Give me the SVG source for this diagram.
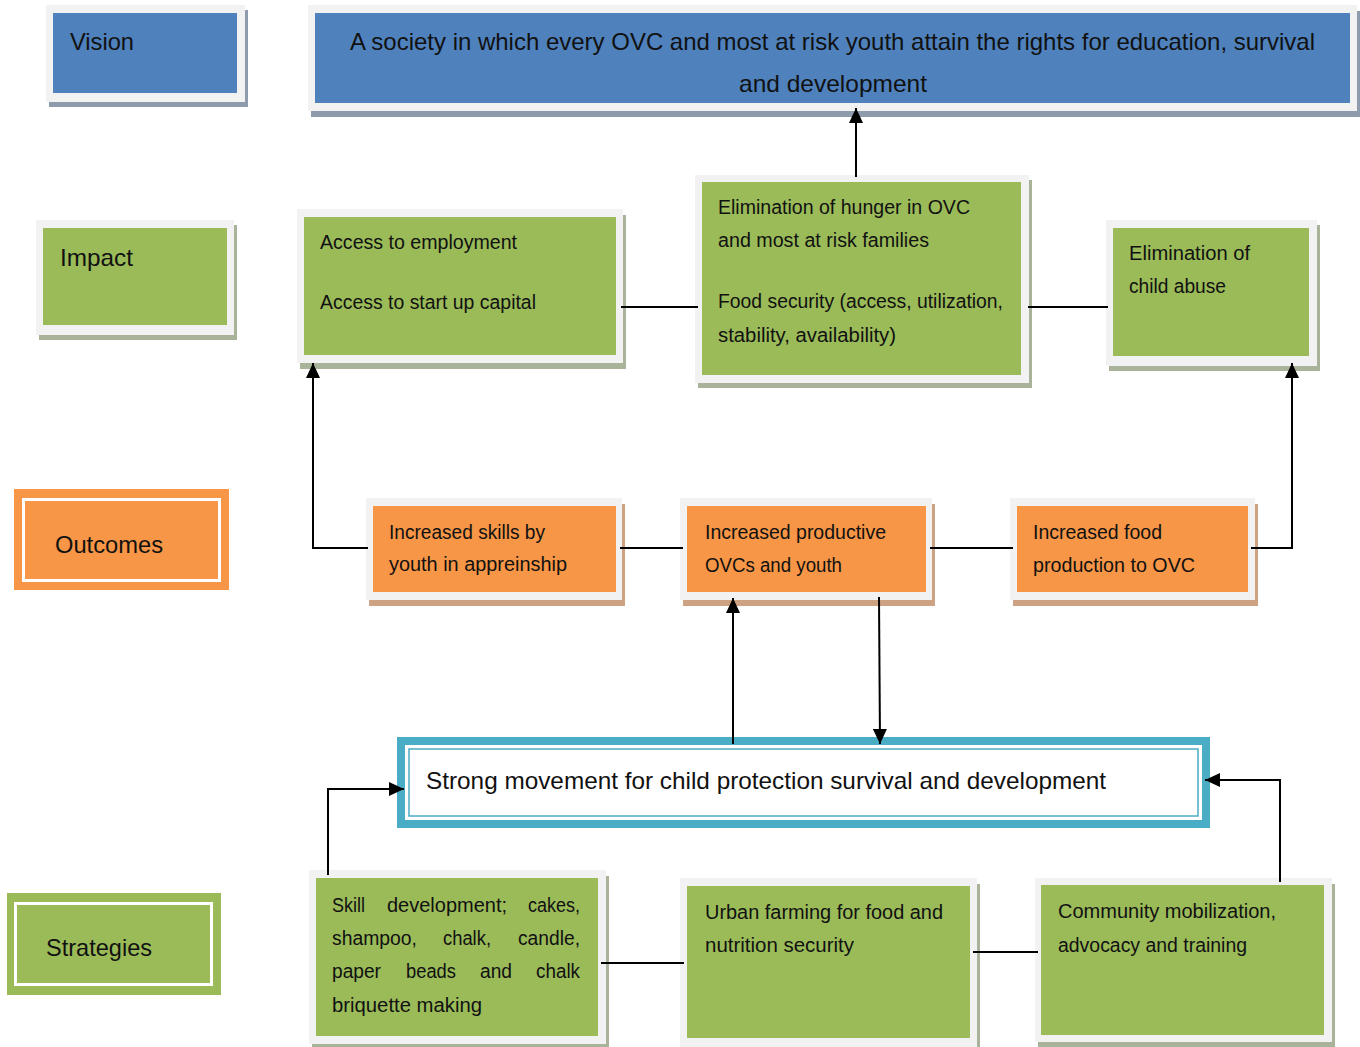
<svg xmlns="http://www.w3.org/2000/svg" width="1360" height="1047" viewBox="0 0 1360 1047">
<defs>
<marker id="ah" viewBox="0 0 15 14" refX="15" refY="7" markerWidth="15" markerHeight="14" markerUnits="userSpaceOnUse" orient="auto">
<path d="M0,0 L15,7 L0,14 Z" fill="#000"/>
</marker>
<style>
.frame{fill:#f2f2f2}
.blue{fill:#4f81bd}
.green{fill:#9bbb59}
.orange{fill:#f79646}
.shb{fill:#8e9bac}
.shg{fill:#a8b39a}
.sho{fill:#cda283}
text{font-family:"Liberation Sans",Arial,sans-serif;fill:#111}
.t24{font-size:24px}
.t20{font-size:20px}
.con{stroke:#000;stroke-width:2;fill:none}
.arr{stroke:#000;stroke-width:2;fill:none;marker-end:url(#ah)}
</style>
</defs>
<rect width="1360" height="1047" fill="#fff"/>

<g id="vision-label">
<rect class="shb" x="49" y="10" width="199" height="97"/>
<rect class="frame" x="46" y="5" width="199" height="97"/>
<rect class="blue" x="53" y="13" width="184" height="80"/>
<text class="t24" x="70" y="50" textLength="64" lengthAdjust="spacingAndGlyphs">Vision</text>
</g>

<g id="vision-statement">
<rect class="shb" x="311" y="11" width="1049" height="106"/>
<rect class="frame" x="308" y="5" width="1049" height="106"/>
<rect class="blue" x="315" y="13" width="1035" height="90"/>
<text class="t24" x="350" y="50" textLength="965" lengthAdjust="spacingAndGlyphs">A society in which every OVC and most at risk youth attain the rights for education, survival</text>
<text class="t24" x="739" y="92" textLength="188" lengthAdjust="spacingAndGlyphs">and development</text>
</g>

<g id="impact-label">
<rect class="shg" x="39" y="225" width="198" height="115"/>
<rect class="frame" x="36" y="220" width="198" height="115"/>
<rect class="green" x="43" y="228" width="184" height="97"/>
<text class="t24" x="60" y="266" textLength="73" lengthAdjust="spacingAndGlyphs">Impact</text>
</g>

<g id="impact-access">
<rect class="shg" x="300" y="215" width="326" height="154"/>
<rect class="frame" x="297" y="209" width="326" height="154"/>
<rect class="green" x="304" y="217" width="312" height="138"/>
<text class="t20" x="320" y="249" textLength="197" lengthAdjust="spacingAndGlyphs">Access to employment</text>
<text class="t20" x="320" y="309" textLength="216" lengthAdjust="spacingAndGlyphs">Access to start up capital</text>
</g>

<g id="impact-hunger">
<rect class="shg" x="698" y="180" width="334" height="208"/>
<rect class="frame" x="695" y="175" width="334" height="208"/>
<rect class="green" x="702" y="182" width="319" height="193"/>
<text class="t20" x="718" y="214" textLength="252" lengthAdjust="spacingAndGlyphs">Elimination of hunger in OVC</text>
<text class="t20" x="718" y="247" textLength="211" lengthAdjust="spacingAndGlyphs">and most at risk families</text>
<text class="t20" x="718" y="308" textLength="285" lengthAdjust="spacingAndGlyphs">Food security (access, utilization,</text>
<text class="t20" x="718" y="342" textLength="178" lengthAdjust="spacingAndGlyphs">stability, availability)</text>
</g>

<g id="impact-abuse">
<rect class="shg" x="1109" y="225" width="211" height="146"/>
<rect class="frame" x="1106" y="220" width="211" height="146"/>
<rect class="green" x="1113" y="228" width="196" height="128"/>
<text class="t20" x="1129" y="260" textLength="121" lengthAdjust="spacingAndGlyphs">Elimination of</text>
<text class="t20" x="1129" y="293" textLength="97" lengthAdjust="spacingAndGlyphs">child abuse</text>
</g>

<g id="outcomes-label">
<rect class="orange" x="14" y="489" width="215" height="101"/>
<rect x="23.5" y="499.5" width="196" height="81" fill="none" stroke="#fff" stroke-width="3"/>
<text class="t24" x="55" y="553" textLength="108" lengthAdjust="spacingAndGlyphs">Outcomes</text>
</g>

<g id="outcome-skills">
<rect class="sho" x="369" y="504" width="256" height="102"/>
<rect class="frame" x="366" y="498" width="256" height="102"/>
<rect class="orange" x="373" y="506" width="243" height="86"/>
<text class="t20" x="389" y="539" textLength="156" lengthAdjust="spacingAndGlyphs">Increased skills by</text>
<text class="t20" x="389" y="571" textLength="178" lengthAdjust="spacingAndGlyphs">youth in appreinship</text>
</g>

<g id="outcome-productive">
<rect class="sho" x="683" y="504" width="252" height="102"/>
<rect class="frame" x="680" y="498" width="252" height="102"/>
<rect class="orange" x="687" y="506" width="239" height="86"/>
<text class="t20" x="705" y="539" textLength="181" lengthAdjust="spacingAndGlyphs">Increased productive</text>
<text class="t20" x="705" y="572" textLength="137" lengthAdjust="spacingAndGlyphs">OVCs and youth</text>
</g>

<g id="outcome-food">
<rect class="sho" x="1013" y="504" width="245" height="102"/>
<rect class="frame" x="1010" y="498" width="245" height="102"/>
<rect class="orange" x="1017" y="506" width="231" height="86"/>
<text class="t20" x="1033" y="539" textLength="129" lengthAdjust="spacingAndGlyphs">Increased food</text>
<text class="t20" x="1033" y="572" textLength="162" lengthAdjust="spacingAndGlyphs">production to OVC</text>
</g>

<g id="movement">
<rect x="397" y="737" width="813" height="91" fill="#4bacc6"/>
<rect x="405" y="745" width="797" height="75" fill="#fff"/>
<rect x="409" y="749" width="789" height="67" fill="none" stroke="#4bacc6" stroke-width="1.5"/>
<text class="t24" x="426" y="789" textLength="680" lengthAdjust="spacingAndGlyphs">Strong movement for child protection survival and development</text>
</g>

<g id="strategies-label">
<rect class="green" x="7" y="893" width="214" height="102"/>
<rect x="15.5" y="903.5" width="196" height="81" fill="none" stroke="#fff" stroke-width="3"/>
<text class="t24" x="46" y="956" textLength="106" lengthAdjust="spacingAndGlyphs">Strategies</text>
</g>

<g id="strategy-skill">
<rect class="shg" x="312" y="876" width="297" height="171"/>
<rect class="frame" x="309" y="870" width="297" height="174"/>
<rect class="green" x="316" y="878" width="282" height="158"/>
<text class="t20" x="332" y="912" textLength="33" lengthAdjust="spacingAndGlyphs">Skill</text>
<text class="t20" x="387" y="912" textLength="120" lengthAdjust="spacingAndGlyphs">development;</text>
<text class="t20" x="528" y="912" textLength="52" lengthAdjust="spacingAndGlyphs">cakes,</text>
<text class="t20" x="332" y="945" textLength="85" lengthAdjust="spacingAndGlyphs">shampoo,</text>
<text class="t20" x="443" y="945" textLength="48" lengthAdjust="spacingAndGlyphs">chalk,</text>
<text class="t20" x="518" y="945" textLength="62" lengthAdjust="spacingAndGlyphs">candle,</text>
<text class="t20" x="332" y="978" textLength="49" lengthAdjust="spacingAndGlyphs">paper</text>
<text class="t20" x="406" y="978" textLength="50" lengthAdjust="spacingAndGlyphs">beads</text>
<text class="t20" x="480" y="978" textLength="32" lengthAdjust="spacingAndGlyphs">and</text>
<text class="t20" x="536" y="978" textLength="44" lengthAdjust="spacingAndGlyphs">chalk</text>
<text class="t20" x="332" y="1012" textLength="150" lengthAdjust="spacingAndGlyphs">briquette making</text>
</g>

<g id="strategy-urban">
<rect class="shg" x="683" y="884" width="297" height="163"/>
<rect class="frame" x="680" y="878" width="297" height="169"/>
<rect class="green" x="687" y="886" width="283" height="152"/>
<text class="t20" x="705" y="919" textLength="238" lengthAdjust="spacingAndGlyphs">Urban farming for food and</text>
<text class="t20" x="705" y="952" textLength="149" lengthAdjust="spacingAndGlyphs">nutrition security</text>
</g>

<g id="strategy-community">
<rect class="shg" x="1038" y="884" width="297" height="163"/>
<rect class="frame" x="1035" y="878" width="297" height="164"/>
<rect class="green" x="1041" y="885" width="283" height="150"/>
<text class="t20" x="1058" y="918" textLength="218" lengthAdjust="spacingAndGlyphs">Community mobilization,</text>
<text class="t20" x="1058" y="952" textLength="189" lengthAdjust="spacingAndGlyphs">advocacy and training</text>
</g>

<g id="connectors">
<line class="arr" x1="856" y1="177" x2="856" y2="108"/>
<line class="con" x1="621" y1="307" x2="698" y2="307"/>
<line class="con" x1="1028" y1="307" x2="1108" y2="307"/>
<polyline class="arr" points="368,548 313,548 313,363"/>
<line class="con" x1="620" y1="548" x2="683" y2="548"/>
<line class="con" x1="930" y1="548" x2="1013" y2="548"/>
<polyline class="arr" points="1251,548 1292,548 1292,363"/>
<line class="arr" x1="733" y1="744" x2="733" y2="598"/>
<line class="arr" x1="879" y1="597" x2="880" y2="744"/>
<polyline class="arr" points="328,875 328,789 404,789"/>
<polyline class="arr" points="1280,882 1280,780 1205,780"/>
<line class="con" x1="601" y1="963" x2="684" y2="963"/>
<line class="con" x1="973" y1="952" x2="1038" y2="952"/>
</g>
</svg>
